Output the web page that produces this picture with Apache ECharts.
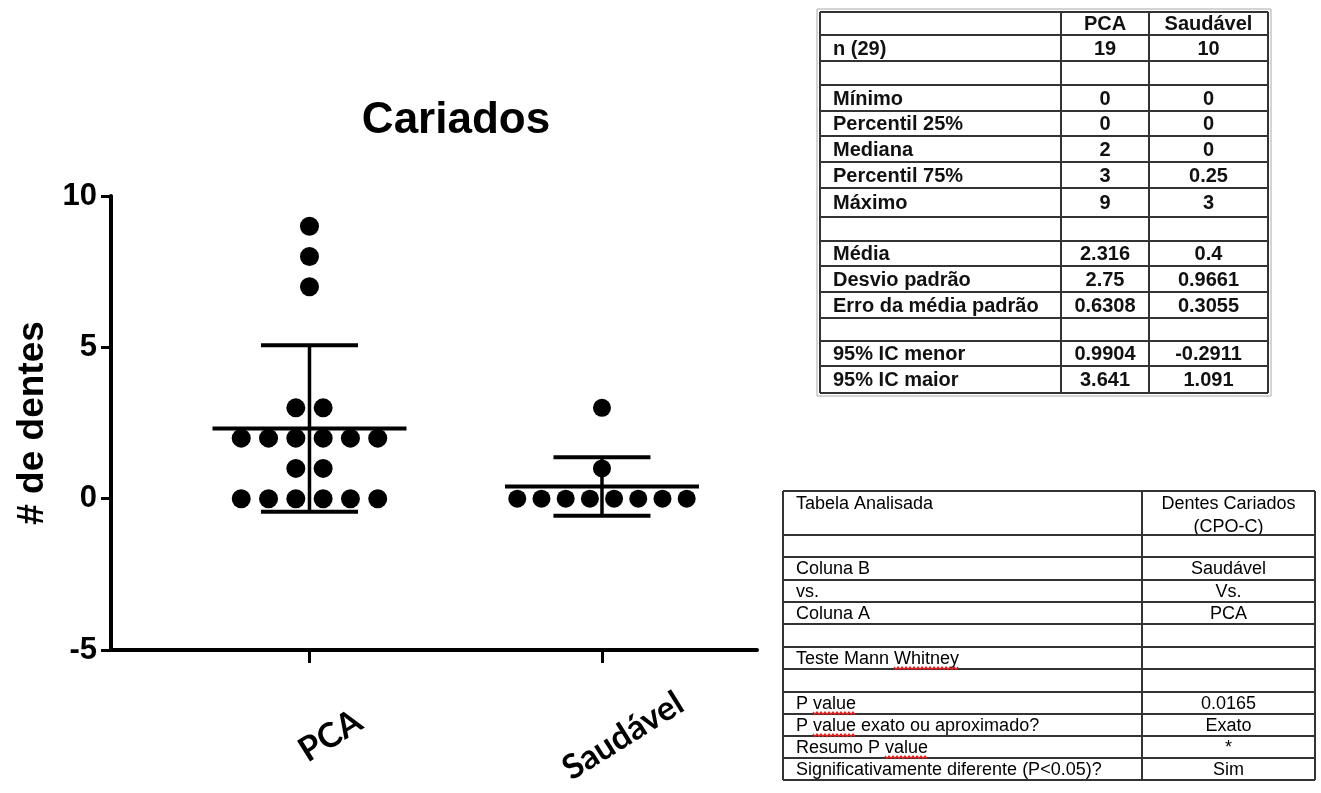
<!DOCTYPE html>
<html>
<head>
<meta charset="utf-8">
<script src="https://cdn.jsdelivr.net/npm/echarts@6/dist/echarts.min.js"></script>
<style>
html,body{margin:0;padding:0;background:#ffffff;}
#main{width:1321px;height:793px;}
</style>
</head>
<body>
<div id="main"></div>
<script>
// ---------------- data ----------------
const categories = ['PCA', 'Saudável'];
const pcaValues = [0, 0, 0, 0, 0, 0, 1, 1, 2, 2, 2, 2, 2, 2, 3, 3, 7, 8, 9];
const saudavelValues = [0, 0, 0, 0, 0, 0, 0, 0, 1, 3];
const means = [2.316, 0.4];
const sds = [2.75, 0.9661];
const yMin = -5, yMax = 10, yStep = 5;
const chartTitle = 'Cariados';
const yAxisTitle = '# de dentes';

const statHeader = ['', 'PCA', 'Saudável'];
const statLabels = ['n (29)', '', 'Mínimo', 'Percentil 25%', 'Mediana', 'Percentil 75%', 'Máximo', '', 'Média', 'Desvio padrão', 'Erro da média padrão', '', '95% IC menor', '95% IC maior'];
const statPCA = ['19', '', '0', '0', '2', '3', '9', '', '2.316', '2.75', '0.6308', '', '0.9904', '3.641'];
const statSaudavel = ['10', '', '0', '0', '0', '0.25', '3', '', '0.4', '0.9661', '0.3055', '', '-0.2911', '1.091'];

const testLabels = ['Tabela Analisada', '', 'Coluna B', 'vs.', 'Coluna A', '', 'Teste Mann Whitney', '', 'P value', 'P value exato ou aproximado?', 'Resumo P value', 'Significativamente diferente (P<0.05)?'];
const testValues = ['Dentes Cariados\n(CPO-C)', '', 'Saudável', 'Vs.', 'PCA', '', '', '', '0.0165', 'Exato', '*', 'Sim'];
// words marked with a red spell-check squiggle: [row, preceding text, word]
const squiggles = [[6, 'Teste Mann ', 'Whitney'], [8, 'P ', 'value'], [9, 'P ', 'value'], [10, 'Resumo P ', 'value']];

// ---------------- layout ----------------
const FONT = '"Liberation Sans", Arial, Helvetica, sans-serif';
const groupSpacing = [27.3, 24.2];   // px between side-by-side dots
const groupDotSize = [19, 18];

function swarm(values, gi) {
  const counts = {}, seen = {};
  values.forEach(v => { counts[v] = (counts[v] || 0) + 1; });
  return values.map(v => {
    const k = seen[v] || 0; seen[v] = k + 1;
    const off = (k - (counts[v] - 1) / 2) * groupSpacing[gi];
    return { value: [gi + 1, v], symbolOffset: [off, 0] };
  });
}

const chart = echarts.init(document.getElementById('main'), null, { renderer: 'canvas' });

const option = {
  backgroundColor: '#ffffff',
  animation: false,
  grid: { left: 111, right: 564, top: 196, bottom: 143, containLabel: false },
  xAxis: {
    type: 'value', min: 0.3214, max: 2.53,
    axisLine: { show: true, onZero: false, lineStyle: { color: '#000', width: 4 } },
    axisTick: { show: true, customValues: [1, 2], length: 13, inside: false, lineStyle: { color: '#000', width: 3 } },
    axisLabel: { show: false },
    splitLine: { show: false }
  },
  yAxis: {
    type: 'value', min: yMin, max: yMax, interval: yStep,
    name: yAxisTitle, nameLocation: 'middle', nameRotate: 90, nameGap: 60,
    nameTextStyle: { fontFamily: FONT, fontWeight: 'bold', fontSize: 37, color: '#000' },
    axisLine: { show: true, onZero: false, lineStyle: { color: '#000', width: 4 } },
    axisTick: { show: true, length: 10, inside: false, lineStyle: { color: '#000', width: 3 } },
    axisLabel: { show: true, margin: 14, fontFamily: FONT, fontWeight: 'bold', fontSize: 31, color: '#000' },
    splitLine: { show: false }
  },
  series: [
    {
      type: 'scatter', name: categories[0], data: swarm(pcaValues, 0),
      symbol: 'circle', symbolSize: groupDotSize[0], itemStyle: { color: '#000', opacity: 1 }, z: 2
    },
    {
      type: 'scatter', name: categories[1], data: swarm(saudavelValues, 1),
      symbol: 'circle', symbolSize: groupDotSize[1], itemStyle: { color: '#000', opacity: 1 }, z: 2
    },
    {
      type: 'custom', name: 'mean ± SD', z: 5,
      data: means.map((m, i) => [i + 1, m, sds[i]]),
      renderItem: function (params, api) {
        const x = api.value(0), m = api.value(1), s = api.value(2);
        const c = api.coord([x, m]);
        const hi = api.coord([x, m + s]);
        const lo = api.coord([x, m - s]);
        const halfMean = 97, halfCap = 48.5;
        const st = { stroke: '#000', lineWidth: 4 };
        return {
          type: 'group',
          children: [
            { type: 'line', shape: { x1: c[0], y1: hi[1], x2: c[0], y2: lo[1] }, style: { stroke: '#000', lineWidth: 3.5 } },
            { type: 'line', shape: { x1: c[0] - halfMean, y1: c[1], x2: c[0] + halfMean, y2: c[1] }, style: st },
            { type: 'line', shape: { x1: c[0] - halfCap, y1: hi[1], x2: c[0] + halfCap, y2: hi[1] }, style: st },
            { type: 'line', shape: { x1: c[0] - halfCap, y1: lo[1], x2: c[0] + halfCap, y2: lo[1] }, style: st }
          ]
        };
      }
    }
  ]
};
chart.setOption(option);

// ---------------- graphics: title, x labels, tables ----------------
const els = [];
function txt(text, x, y, font, align, valign, extra) {
  return {
    type: 'text', silent: true, x: x, y: y,
    style: Object.assign({
      text: text, font: font, fill: '#000',
      align: align, textAlign: align, verticalAlign: valign, textVerticalAlign: valign
    }, extra || {})
  };
}
function line(x1, y1, x2, y2, w, c) {
  return { type: 'line', silent: true, shape: { x1: x1, y1: y1, x2: x2, y2: y2 }, style: { stroke: c || '#333', lineWidth: w || 2 } };
}

els.push(txt(chartTitle, 456, 121, 'bold 44px ' + FONT, 'center', 'middle'));

// category labels, placed from the x axis scale
categories.forEach((name, i) => {
  const px = chart.convertToPixel({ xAxisIndex: 0 }, i + 1);
  const el = txt(name, px + 21, 650 + 86, 'bold 34px Lato, "Open Sans", sans-serif', 'center', 'middle');
  el.rotation = 32 * Math.PI / 180;
  els.push(el);
});

// table 1
const t1Cols = [820, 1061, 1149, 1268];
const t1Rows = [12, 35, 61, 85, 111, 136, 162, 188, 217, 241, 266, 292, 318, 341, 366, 393];
const t1Data = [statHeader].concat(statLabels.map((l, i) => [l, statPCA[i], statSaudavel[i]]));
const t1Font = 'bold 20px ' + FONT;
t1Data.forEach((row, r) => {
  const cy = (t1Rows[r] + t1Rows[r + 1]) / 2 + 1;
  row.forEach((cell, c) => {
    if (!cell) return;
    if (c === 0) els.push(txt(cell, t1Cols[0] + 13, cy, t1Font, 'left', 'middle', { fill: '#111' }));
    else els.push(txt(cell, (t1Cols[c] + t1Cols[c + 1]) / 2, cy, t1Font, 'center', 'middle', { fill: '#111' }));
  });
});
t1Rows.forEach(y => els.push(line(t1Cols[0], y, t1Cols[t1Cols.length - 1], y, 2, '#333')));
t1Cols.forEach(x => els.push(line(x, t1Rows[0], x, t1Rows[t1Rows.length - 1], 2, '#333')));
els.push({ type: 'rect', silent: true, shape: { x: t1Cols[0] - 3, y: t1Rows[0] - 3, width: t1Cols[3] - t1Cols[0] + 6, height: t1Rows[t1Rows.length - 1] - t1Rows[0] + 6 }, style: { fill: 'none', stroke: '#aaa', lineWidth: 1 } });

// table 2
const t2Cols = [783, 1142, 1315];
const t2Rows = [491, 535, 557, 580, 602, 624, 647, 669, 692, 714, 736, 758, 780];
const t2Font = '18px ' + FONT;
testLabels.forEach((label, r) => {
  const top = t2Rows[r], bot = t2Rows[r + 1];
  const cy = (top + bot) / 2 + 1;
  const val = testValues[r];
  const cx = (t2Cols[1] + t2Cols[2]) / 2;
  if (r === 0) {
    els.push(txt(label, t2Cols[0] + 13, top + 2, t2Font, 'left', 'top', { fill: '#000', lineHeight: 23 }));
    els.push(txt(val, cx, top + 2, t2Font, 'center', 'top', { fill: '#000', lineHeight: 23 }));
  } else {
    if (label) els.push(txt(label, t2Cols[0] + 13, cy, t2Font, 'left', 'middle', { fill: '#000' }));
    if (val) els.push(txt(val, cx, cy, t2Font, 'center', 'middle', { fill: '#000' }));
  }
});
t2Rows.forEach(y => els.push(line(t2Cols[0], y, t2Cols[t2Cols.length - 1], y, 2, '#333')));
t2Cols.forEach(x => els.push(line(x, t2Rows[0], x, t2Rows[t2Rows.length - 1], 2, '#333')));

// red spell-check squiggles
const mctx = document.createElement('canvas').getContext('2d');
mctx.font = t2Font;
squiggles.forEach(([r, pre, word]) => {
  const x0 = t2Cols[0] + 13 + mctx.measureText(pre).width;
  const w = mctx.measureText(word).width;
  const y0 = (t2Rows[r] + t2Rows[r + 1]) / 2 + 1 + 9;
  const pts = [];
  for (let k = 0, x = x0; x <= x0 + w; k++, x += 2) pts.push([x, y0 + (k % 2 ? 1.5 : -1)]);
  els.push({ type: 'polyline', silent: true, shape: { points: pts }, style: { stroke: '#e02020', lineWidth: 1.3, fill: null } });
});

chart.setOption({ graphic: { elements: els } });
</script>
</body>
</html>
